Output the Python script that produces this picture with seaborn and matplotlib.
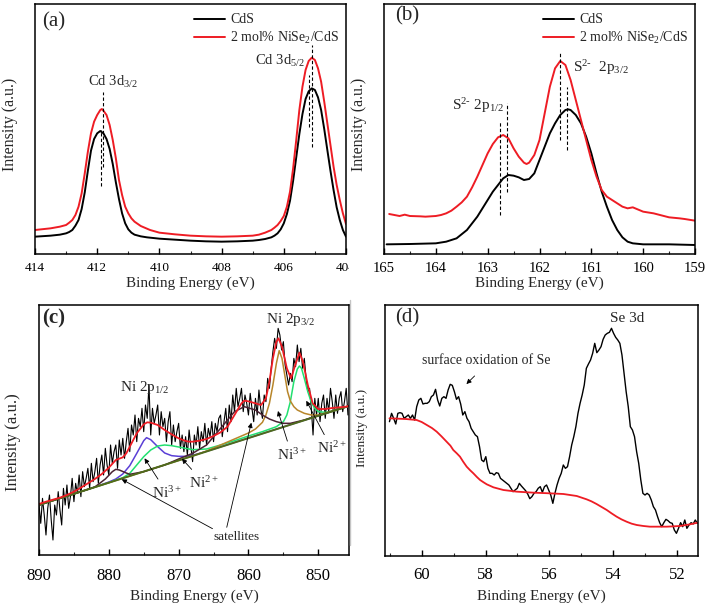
import numpy as np
import matplotlib
matplotlib.use("Agg")
import matplotlib.pyplot as plt
import seaborn as sns
from matplotlib.ticker import MultipleLocator
from matplotlib.lines import Line2D
from matplotlib.transforms import Bbox, TransformedBbox

# ---------------- data (arbitrary intensity units) ----------------
# (a) Cd 3d
a_energy_cds = [414.0, 413.5, 413.2, 413.0, 412.9, 412.8, 412.7, 412.6, 412.5, 412.4, 412.3, 412.2,
                412.1, 412.0, 411.9, 411.8, 411.7, 411.6, 411.5, 411.4, 411.3, 411.2, 411.1, 411.0,
                410.9, 410.8, 410.6, 410.4, 410.0, 409.5, 409.0, 408.5, 408.0, 407.5, 407.0, 406.8,
                406.6, 406.4, 406.3, 406.2, 406.1, 406.0, 405.9, 405.8, 405.7, 405.6, 405.5, 405.4,
                405.3, 405.2, 405.1, 405.0, 404.9, 404.8, 404.7, 404.6, 404.5, 404.4, 404.3, 404.2,
                404.1, 404.0]
a_cds = [52, 55, 58, 62, 66, 72, 85, 102, 135, 185, 250, 310,
         345, 362, 369, 362, 345, 315, 270, 215, 165, 122, 92, 74,
         64, 58, 53, 50, 46, 43, 40, 38, 37, 38, 40, 42,
         45, 50, 55, 62, 74, 92, 120, 160, 220, 290, 360, 420,
         465, 488, 497, 492, 470, 432, 375, 312, 250, 192, 140, 102,
         72, 52]
a_energy_nise = [414.0, 413.5, 413.2, 413.0, 412.9, 412.8, 412.7, 412.6, 412.5, 412.4, 412.3, 412.2,
                 412.1, 412.0, 411.9, 411.85, 411.8, 411.7, 411.6, 411.5, 411.4, 411.3, 411.2, 411.1,
                 411.0, 410.9, 410.8, 410.6, 410.3, 410.0, 409.5, 409.0, 408.5, 408.0, 407.5, 407.0,
                 406.8, 406.6, 406.4, 406.3, 406.2, 406.1, 406.0, 405.9, 405.8, 405.7, 405.6, 405.5,
                 405.4, 405.3, 405.2, 405.1, 405.0, 404.9, 404.8, 404.7, 404.6, 404.5, 404.4, 404.3,
                 404.2, 404.1, 404.0]
a_nise = [72, 77, 82, 87, 94, 102, 117, 142, 182, 242, 307, 362,
          397, 417, 432, 435, 430, 417, 387, 342, 287, 222, 177, 142,
          122, 107, 97, 84, 72, 64, 59, 55, 53, 52, 53, 55,
          58, 64, 72, 79, 87, 99, 114, 142, 187, 257, 342, 432,
          502, 552, 579, 589, 582, 557, 517, 457, 392, 327, 262, 207,
          162, 122, 90]
a_peak_lines = [411.82, 411.89, 405.10, 405.18]
a_line_lo = [261, 204, 321, 381]
a_line_hi = [486, 372, 627, 537]

# (b) S 2p
b_energy_cds = [164.95, 164.5, 164.0, 163.8, 163.6, 163.4, 163.2, 163.0, 162.9, 162.8, 162.7, 162.6,
                162.5, 162.4, 162.3, 162.2, 162.1, 162.0, 161.9, 161.8, 161.7, 161.6, 161.5, 161.45,
                161.4, 161.3, 161.2, 161.1, 161.0, 160.9, 160.8, 160.7, 160.6, 160.5, 160.4, 160.3,
                160.2, 160.0, 159.5, 159.0]
b_cds = [29, 30, 32, 37, 47, 72, 112, 162, 187, 207, 227, 237,
         235, 230, 222, 225, 242, 282, 322, 362, 392, 417, 432, 434,
         432, 417, 392, 352, 302, 242, 187, 142, 102, 72, 50, 37,
         32, 29, 29, 27]
b_energy_nise = [164.9, 164.8, 164.7, 164.6, 164.5, 164.3, 164.2, 164.0, 163.9, 163.8, 163.7, 163.6,
                 163.5, 163.4, 163.3, 163.2, 163.1, 163.0, 162.9, 162.8, 162.7, 162.6, 162.5, 162.4,
                 162.3, 162.25, 162.2, 162.1, 162.0, 161.9, 161.8, 161.7, 161.6, 161.5, 161.4, 161.3,
                 161.2, 161.1, 161.0, 160.9, 160.8, 160.7, 160.6, 160.5, 160.4, 160.3, 160.2, 160.0,
                 159.8, 159.6, 159.5, 159.3, 159.2, 159.0]
b_nise = [120, 117, 114, 118, 114, 113, 112, 114, 117, 122, 130, 142,
          155, 172, 200, 232, 267, 302, 330, 350, 357, 347, 317, 292,
          274, 270, 274, 297, 342, 422, 502, 557, 579, 567, 522, 462,
          402, 342, 282, 232, 192, 172, 162, 152, 142, 137, 140, 127,
          122, 114, 110, 107, 105, 100]
b_peak_lines = [162.76, 162.63, 161.60, 161.46]
b_line_lo = [117, 186, 342, 312]
b_line_hi = [396, 453, 603, 501]

# (c) Ni 2p, raw counts every 0.25 eV from 890 eV
c_raw = [150, 95, 170, 120, 60, 140, 180, 105, 45, 150, 120, 190, 135, 90, 200, 150,
         210, 140, 175, 230, 160, 215, 185, 240, 175, 250, 205, 230, 260, 200, 275, 220,
         250, 290, 215, 270, 300, 240, 320, 270, 240, 330, 275, 310, 330, 260, 345, 300,
         350, 290, 340, 380, 310, 390, 360, 420, 340, 410, 385, 440, 370, 450, 410, 510,
         360, 440, 395, 420, 450, 360, 430, 385, 410, 340, 400, 430, 330, 390, 340, 370,
         395, 320, 360, 310, 355, 300, 375, 325, 280, 360, 330, 385, 320, 370, 340, 395,
         330, 380, 355, 400, 340, 395, 370, 410, 420, 355, 400, 440, 370, 450, 400, 480,
         430, 500, 445, 470, 500, 430, 480, 455, 420, 485, 440, 400, 470, 420, 495, 440,
         410, 480, 460, 530, 500, 560, 610, 650, 620, 680, 660, 615, 640, 570, 540, 510,
         545, 520, 590, 565, 630, 580, 620, 560, 590, 530, 490, 500, 440, 360, 470, 420,
         470, 400, 455, 480, 410, 470, 430, 500, 460, 410, 480, 425, 470, 490, 430, 460,
         500, 420]
c_energy = np.arange(890, 845.7, -0.25)

c_bg_energy = [890, 845.6]
c_bg = [150, 447]
c_env_energy = [890, 889, 888, 887, 886, 885, 884, 883, 882, 881, 880, 879, 878, 877.5, 877, 876,
                875, 874.5, 874, 873, 872, 871, 870, 869, 868.5, 868, 867, 866, 865, 864, 863, 862,
                861, 860.6, 860, 859, 858.2, 857.5, 857, 856.5, 856, 855.7, 855.2, 854.5, 853.9,
                853.3, 852.7, 852.2, 851.5, 850.8, 850, 849, 848, 847, 846, 845.6]
c_env = [153, 160, 166, 172, 180, 190, 202, 215, 228, 243, 262, 285, 293, 305, 325, 365,
         392, 398, 397, 390, 375, 362, 350, 342, 340, 340, 343, 348, 357, 368, 385, 420,
         455, 463, 461, 455, 450, 470, 520, 590, 640, 650, 625, 560, 530,
         570, 607, 580, 510, 455, 438, 438, 441, 443, 445, 447]
c_ni3_half_energy = [890, 884, 882, 880, 879, 878, 877, 876, 875, 874.6, 874, 873, 872, 871, 870,
                     869, 868, 867, 866, 845.6]
c_ni3_half = [150, 190, 204, 219, 228, 243, 268, 305, 343, 352, 346, 325, 306, 298, 296,
              296, 299, 305, 311, 447]
c_ni2_energy = [890, 880, 878, 877, 876, 875, 874, 873, 872, 871, 870, 869, 868, 866, 864, 862,
                860, 858, 856, 855, 854.5, 854, 853.5, 853, 852.7, 852.4, 852, 851.5, 851, 850.5,
                850, 849, 848, 845.6]
c_ni2 = [150, 217, 232, 245, 270, 295, 315, 327, 330, 328, 324, 320, 316, 318, 330, 343,
         357, 370, 385, 400, 420, 460, 520, 558, 567, 560, 530, 490, 458, 440,
         430, 428, 432, 447]
c_ni3_energy = [890, 868, 866, 864, 862, 860, 859, 858, 857.5, 857, 856.5, 856, 855.6, 855.2,
                854.8, 854.4, 854, 853.5, 853, 852, 851, 850, 848, 845.6]
c_ni3 = [150, 297, 312, 330, 348, 366, 378, 398, 420, 455, 510, 575, 613, 590,
         540, 490, 462, 445, 435, 425, 420, 420, 432, 447]
c_sat_energy = [890, 884, 882, 880.5, 879.5, 879, 878.5, 877.5, 877, 876, 875, 872, 870, 868, 866,
                864, 862, 860.6, 859, 858, 857, 856, 855, 854, 853, 852, 851, 850, 845.6]
c_sat = [150, 190, 204, 228, 250, 257, 255, 246, 242, 246, 250, 270, 288, 305, 330,
         380, 430, 445, 435, 420, 408, 400, 395, 395, 400, 405, 412, 418, 447]

# (d) Se 3d
d_raw = [403, 428, 413, 396, 428, 430, 428, 413, 418, 423, 413, 423, 408, 448, 468, 473, 456, 458,
         458, 463, 478, 483, 500, 468, 450, 473, 478, 473, 498, 515, 512, 493, 470, 478, 456, 423,
         433, 413, 403, 383, 373, 363, 358, 328, 288, 283, 298, 263, 248, 248, 243, 250, 248, 233,
         228, 223, 218, 213, 203, 193, 198, 203, 218, 210, 203, 196, 186, 172, 178, 188, 193, 203,
         208, 191, 208, 213, 198, 183, 158, 188, 213, 233, 248, 273, 263, 268, 298, 333, 358, 388,
         428, 458, 483, 513, 563, 576, 588, 608, 638, 610, 618, 628, 650, 663, 668, 671, 683, 668,
         656, 648, 638, 603, 548, 493, 448, 388, 378, 358, 313, 278, 228, 188, 183, 188, 183, 168,
         148, 138, 118, 100, 88, 100, 110, 106, 100, 98, 78, 68, 83, 100, 88, 108, 83, 93,
         100, 96, 108, 98]
d_energy = np.linspace(61.01, 51.36, len(d_raw))
d_bg_energy = [61.01, 60.5, 60.16, 60.0, 59.84, 59.68, 59.53, 59.38, 59.22, 59.1, 59.01, 58.9,
               58.80, 58.7, 58.59, 58.48, 58.38, 58.27, 58.17, 58.06, 57.96, 57.75, 57.44, 57.02,
               56.50, 55.98, 55.56, 55.14, 54.83, 54.68, 54.52, 54.36, 54.20, 54.05, 53.89, 53.74,
               53.58, 53.42, 53.26, 53.05, 52.85, 52.32, 51.91, 51.59, 51.35]
d_bg = [413, 411, 408, 402, 393, 384, 373, 359, 343, 331, 318, 308,
        298, 283, 268, 257, 248, 237, 228, 221, 215, 206, 198, 193,
        190, 188, 186, 180, 170, 164, 156, 147, 138, 128, 118, 110,
        103, 97, 93, 90, 88, 88, 90, 95, 100]

RED = "#ee1c24"

# ---------------- figure ----------------
sns.set_theme(style="ticks")
plt.rcParams["font.family"] = ["Liberation Serif", "DejaVu Serif"]
plt.rcParams["mathtext.fontset"] = "custom"
plt.rcParams["mathtext.rm"] = "Liberation Serif"
plt.rcParams["mathtext.it"] = "Liberation Serif"
plt.rcParams["mathtext.default"] = "rm"

fig = plt.figure(figsize=(7.08, 6.06), dpi=100)
W, H = 708, 606


def add_panel(left, top, right, bottom):
    return fig.add_axes([left / W, 1 - bottom / H, (right - left) / W, (bottom - top) / H])


def style_axis(ax, xlim, ylim, major, minor, tick_size, pad, label_size, xlabel_y, ylabel_y):
    ax.set_xlim(*xlim)
    ax.set_ylim(*ylim)
    ax.xaxis.set_major_locator(MultipleLocator(major))
    ax.xaxis.set_minor_locator(MultipleLocator(minor))
    ax.set_yticks([])
    ax.tick_params(axis="x", which="major", direction="in", length=4, width=1,
                   labelsize=tick_size, pad=pad, colors="black")
    ax.tick_params(axis="x", which="minor", direction="in", length=2.5, width=0.8)
    for s in ax.spines.values():
        s.set_linewidth(1.1)
        s.set_color("black")
    ax.set_xlabel("Binding Energy (eV)", fontsize=11)
    ax.set_ylabel("Intensity (a.u.)", fontsize=label_size)
    ax.xaxis.set_label_coords(0.5, xlabel_y)
    ax.yaxis.set_label_coords(-0.055, ylabel_y)


def add_legend(ax):
    ax.legend(loc="upper right", frameon=False, fontsize=10, handlelength=2.2,
              borderaxespad=0.1, labelspacing=0.25, handletextpad=0.4,
              bbox_to_anchor=(1.0, 0.99))


# (a)
ax = add_panel(35, 4, 346, 254)
sns.lineplot(x=a_energy_cds, y=a_cds, ax=ax, color="black", lw=1.4, sort=False, label="CdS")
sns.lineplot(x=a_energy_nise, y=a_nise, ax=ax, color=RED, lw=1.4, sort=False,
             label="2 mol% NiSe$_2$/CdS")
ax.vlines(a_peak_lines, a_line_lo, a_line_hi, colors="black", linestyles=(0, (3, 2)), lw=0.8)
style_axis(ax, (414, 404), (0, 750), 2, 1, 9.5, 6, 11.5, -0.092, 0.52)
add_legend(ax)
ax.text(0.022, 0.93, "(a)", transform=ax.transAxes, fontsize=15, va="center")
ax.text(412.29, 504, "Cd 3d$_{3/2}$", fontsize=10.5)
ax.text(406.94, 567, "Cd 3d$_{5/2}$", fontsize=10.5)
clip = TransformedBbox(Bbox.from_extents(0, 0, 349 / W, 1), fig.transFigure)
for lbl in ax.get_xticklabels():
    lbl.set_clip_box(clip)
    lbl.set_clip_on(True)

# (b)
ax = add_panel(384, 4, 695, 254)
sns.lineplot(x=b_energy_cds, y=b_cds, ax=ax, color="black", lw=1.4, sort=False, label="CdS")
sns.lineplot(x=b_energy_nise, y=b_nise, ax=ax, color=RED, lw=1.4, sort=False,
             label="2 mol% NiSe$_2$/CdS")
ax.vlines(b_peak_lines, b_line_lo, b_line_hi, colors="black", linestyles=(0, (3, 2)), lw=0.8)
style_axis(ax, (165, 159), (0, 750), 1, 0.5, 10.5, 6, 11.5, -0.092, 0.52)
add_legend(ax)
ax.text(0.035, 0.952, "(b)", transform=ax.transAxes, fontsize=15, va="center")
ax.text(163.69, 432, r"S$^{\text{2-}}$ 2p$_{1/2}$", fontsize=11)
ax.text(161.36, 547, r"S$^{\text{2-}}$  2p$_{3/2}$", fontsize=11)

# (c)
ax = add_panel(39, 305, 349, 555)
sns.lineplot(x=c_energy, y=c_raw, ax=ax, color="black", lw=0.8, sort=False)
sns.lineplot(x=c_ni3_half_energy, y=c_ni3_half, ax=ax, color="#5b3fd6", lw=1.1, sort=False)
sns.lineplot(x=c_ni2_energy, y=c_ni2, ax=ax, color="#22e070", lw=1.1, sort=False)
sns.lineplot(x=c_ni3_energy, y=c_ni3, ax=ax, color="#b8862b", lw=1.1, sort=False)
sns.lineplot(x=c_sat_energy, y=c_sat, ax=ax, color="#4a2232", lw=1.1, sort=False)
sns.lineplot(x=c_bg_energy, y=c_bg, ax=ax, color="#4f6b1c", lw=1.4, sort=False)
sns.lineplot(x=c_env_energy, y=c_env, ax=ax, color=RED, lw=1.3, sort=False)
style_axis(ax, (890, 845.6), (0, 750), 10, 5, 12, 9, 12, -0.14, 0.45)
ax.yaxis.set_label_coords(-0.058, 0.45)
ax.text(0.009, 0.948, "(c)", transform=ax.transAxes, fontsize=15, va="center",
        fontweight="bold")
ax.text(874.8, 502, "Ni 2p$_{1/2}$", fontsize=11, ha="center", va="center")
ax.text(853.9, 708, "Ni 2p$_{3/2}$", fontsize=11, ha="center", va="center")
arrow = dict(arrowstyle="-|>", color="black", lw=0.6, mutation_scale=7)
ax.annotate("Ni$^{3+}$", xy=(875.1, 297), xytext=(871.7, 187), fontsize=11,
            ha="center", va="center", arrowprops=arrow)
ax.annotate("Ni$^{2+}$", xy=(869.8, 295), xytext=(866.4, 217), fontsize=11,
            ha="center", va="center", arrowprops=arrow)
ax.annotate("Ni$^{3+}$", xy=(855.9, 440), xytext=(853.8, 300), fontsize=11,
            ha="center", va="center", arrowprops=arrow)
ax.annotate("Ni$^{2+}$", xy=(851.9, 470), xytext=(848.1, 320), fontsize=11,
            ha="center", va="center", arrowprops=arrow)
ax.text(861.7, 55, "satellites", fontsize=9.5, ha="center", va="center")
ax.annotate("", xy=(878.5, 231), xytext=(864.8, 75), arrowprops=arrow)
ax.annotate("", xy=(859.5, 405), xytext=(863.2, 75), arrowprops=arrow)

# (d)
ax = add_panel(385, 305, 698, 556)
sns.lineplot(x=d_energy, y=d_raw, ax=ax, color="black", lw=1.0, sort=False)
sns.lineplot(x=d_bg_energy, y=d_bg, ax=ax, color=RED, lw=1.3, sort=False)
style_axis(ax, (61.15, 51.34), (0, 753), 2, 1, 12, 8, 9.5, -0.135, 0.51)
ax.text(0.032, 0.948, "(d)", transform=ax.transAxes, fontsize=15, va="center")
ax.text(53.55, 713, "Se 3d", fontsize=11, ha="center", va="center")
ax.text(57.98, 588, "surface oxidation of Se", fontsize=10, ha="center", va="center")
ax.annotate("", xy=(58.66, 510), xytext=(58.28, 546), arrowprops=arrow)

fig.add_artist(Line2D([350 / W, 350 / W], [1 - 300 / H, 1 - 545 / H], color="#c4c4c4", lw=1))

fig.savefig("out.png", dpi=100)
